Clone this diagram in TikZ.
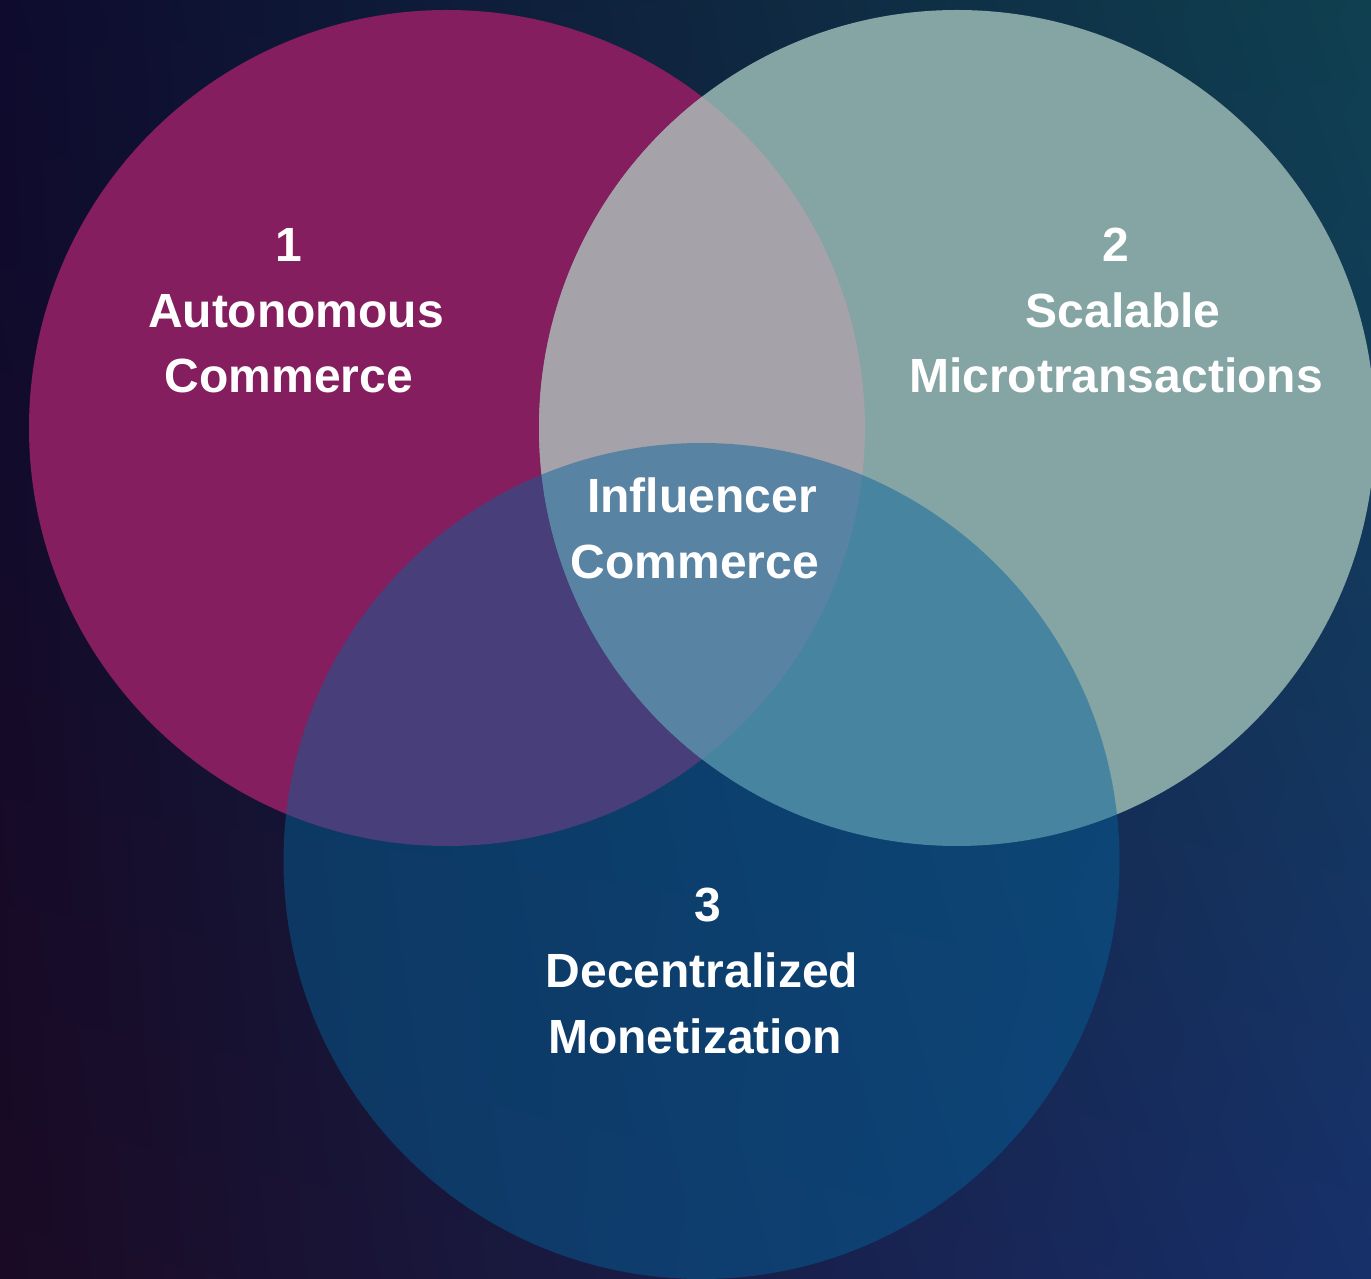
\documentclass[tikz,border=0pt]{standalone}
\usepackage{fontspec}
\setmainfont{Liberation Sans}
\usetikzlibrary{shadings}
\definecolor{bgTL}{HTML}{0E0B2E}
\definecolor{bgTR}{HTML}{0F4050}
\definecolor{bgBL}{HTML}{1A0A24}
\definecolor{bgBR}{HTML}{17306A}
\definecolor{cOne}{HTML}{841E5E}
\definecolor{cTwo}{HTML}{85A4A4}
\definecolor{cOneTwo}{HTML}{A6A2AA}
\definecolor{cThree}{HTML}{03629A}
\begin{document}
\begin{tikzpicture}[x=1pt,y=1pt,
  lbl/.style={text=white,font=\fontsize{48}{65.5}\selectfont\bfseries,inner sep=0pt,anchor=base}]
\useasboundingbox (0,0) rectangle (1371,1278);
\clip (0,0) rectangle (1371,1278);
\shade[upper left=bgTL, upper right=bgTR, lower left=bgBL, lower right=bgBR] (0,0) rectangle (1371,1278);
% circles
\fill[cOne] (447,850) circle (418);
\fill[cTwo] (957,850) circle (418);
\begin{scope}
  \clip (447,850) circle (418);
  \fill[cOneTwo] (957,850) circle (418);
\end{scope}
\fill[cThree, fill opacity=0.47] (701.5,417) circle (418);
% labels
\node[lbl] (n1)  at (289,1016) {1};
\node[lbl] (a1)  at (296,950)  {Autonomous};
\node[lbl] (b1)  at (289,885)  {Commerce};
\node[lbl] (n2)  at (1116,1016) {2};
\node[lbl] (a2)  at (1123,950) {Scalable};
\node[lbl] (b2)  at (1116,885) {Microtransactions};
\node[lbl] (ac)  at (702,765)  {Influencer};
\node[lbl] (bc)  at (695,699)  {Commerce};
\node[lbl] (n3)  at (708,356)  {3};
\node[lbl] (a3)  at (702,290)  {Decentralized};
\node[lbl] (b3)  at (695,225)  {Monetization};
\end{tikzpicture}
\end{document}
